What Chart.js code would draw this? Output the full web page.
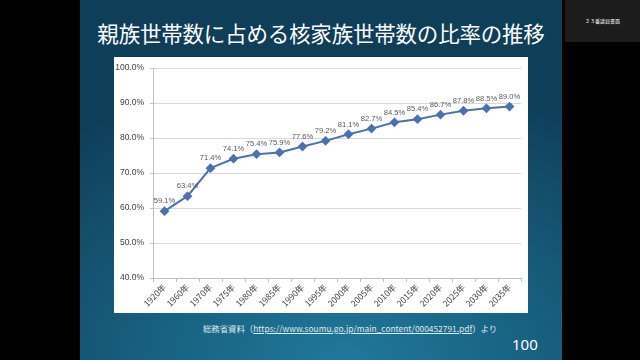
<!DOCTYPE html>
<html>
<head>
<meta charset="utf-8">
<script src="https://cdn.jsdelivr.net/npm/chart.js@4.4.0/dist/chart.umd.min.js"></script>
<style>
  html, body { margin: 0; padding: 0; width: 640px; height: 360px; background: #000; overflow: hidden; }
  .slide {
    position: absolute; left: 80px; top: 0; width: 482px; height: 360px;
    background: radial-gradient(ellipse 90% 80% at 55% 100%, #21789b 0%, #18607f 45%, #0f3e59 100%);
  }
  .title {
    position: absolute; left: 0; top: 18px; width: 482px; text-align: center;
    color: #fff; font-family: "Noto Sans CJK JP", sans-serif; font-size: 21.5px; line-height: 30px;
    letter-spacing: -0.2px;
  }
  .box {
    position: absolute; left: 34px; top: 57px; width: 414px; height: 256px; background: #fff;
  }
  .src {
    position: absolute; left: 123px; top: 321px; color: #dfe8ee;
    font-family: "Noto Sans CJK JP", sans-serif; font-size: 8.4px; line-height: 14px; white-space: nowrap;
  }
  .src u { text-decoration: underline; }
  .page {
    position: absolute; left: 432px; top: 334px; color: #fff;
    font-family: "Noto Sans", sans-serif; font-size: 15px; line-height: 20px;
  }
  .corner {
    position: absolute; left: 565px; top: 0; width: 75px; height: 42px; background: #1c1c1c;
    color: #fff; font-family: "Noto Sans CJK JP", sans-serif; font-size: 5px; line-height: 42px; text-align: center;
  }
</style>
</head>
<body>
<div class="slide">
  <div class="title">親族世帯数に占める核家族世帯数の比率の推移</div>
  <div class="box"><canvas id="chart" width="414" height="256"></canvas></div>
  <div class="src">総務省資料（<u>https://www.soumu.go.jp/main_content/000452791.pdf</u>）より</div>
  <div class="page">100</div>
</div>
<div class="corner">２３番議員書面</div>
<script>
// 年次ラベル
const years = ['1920年', '1960年', '1970年', '1975年', '1980年', '1985年', '1990年', '1995年',
  '2000年', '2005年', '2010年', '2015年', '2020年', '2025年', '2030年', '2035年'];
// 核家族世帯の比率 (%)
const ratios = [59.1, 63.4, 71.4, 74.1, 75.4, 75.9, 77.6, 79.2, 81.1, 82.7, 84.5, 85.4, 86.7, 87.8, 88.5, 89.0];
const yMin = 40, yMax = 100, yStep = 10;

// データラベル描画
const pointLabels = {
  id: 'pointLabels',
  afterDatasetsDraw(chart) {
    const ctx = chart.ctx;
    const meta = chart.getDatasetMeta(0);
    ctx.save();
    ctx.font = '7.6px "Liberation Sans", Arial, sans-serif';
    ctx.fillStyle = '#595959';
    ctx.textAlign = 'center';
    ctx.textBaseline = 'bottom';
    meta.data.forEach((pt, i) => {
      ctx.fillText(ratios[i].toFixed(1) + '%', pt.x, pt.y - 6);
    });
    ctx.restore();
  }
};

new Chart(document.getElementById('chart').getContext('2d'), {
  type: 'line',
  data: {
    labels: years,
    datasets: [{
      data: ratios,
      borderColor: '#4a71b0',
      backgroundColor: '#4a71b0',
      borderWidth: 2,
      pointStyle: 'rectRot',
      pointRadius: 3.5,
      tension: 0
    }]
  },
  options: {
    responsive: false,
    animation: false,
    layout: { padding: { top: 2, right: 7, left: 0, bottom: 0 } },
    plugins: { legend: { display: false }, tooltip: { enabled: false } },
    scales: {
      y: {
        min: yMin, max: yMax,
        ticks: {
          stepSize: yStep,
          color: '#404040',
          font: { family: '"Liberation Sans", Arial, sans-serif', size: 8.5 },
          padding: 6,
          callback: v => v.toFixed(1) + '%'
        },
        grid: { color: '#d9d9d9', lineWidth: 1, drawTicks: true, tickLength: 3, tickColor: '#bfbfbf' },
        border: { color: '#bfbfbf' },
        afterFit: s => { s.width = 39; }
      },
      x: {
        offset: true,
        ticks: {
          color: '#404040',
          font: { family: '"Noto Sans CJK JP", sans-serif', size: 8.5 },
          minRotation: 45, maxRotation: 45, autoSkip: false, padding: 0
        },
        grid: { offset: true, drawOnChartArea: false, drawTicks: true, tickLength: 4, color: '#bfbfbf' },
        border: { color: '#bfbfbf' },
        afterFit: s => { s.height = 35; }
      }
    }
  },
  plugins: [pointLabels]
});
</script>
</body>
</html>
